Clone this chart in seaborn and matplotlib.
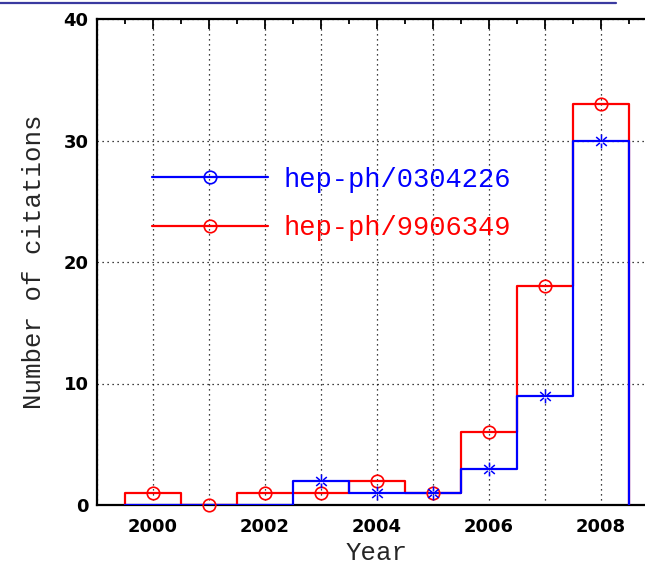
import numpy as np
import matplotlib
matplotlib.use("Agg")
import matplotlib.pyplot as plt
from matplotlib.lines import Line2D
from matplotlib.path import Path
from matplotlib.ticker import FixedLocator, FuncFormatter
import seaborn as sns

# Citations per year for the two papers
years = [2000, 2001, 2002, 2003, 2004, 2005, 2006, 2007, 2008]
cites_0304226 = [0, 0, 0, 2, 1, 1, 3, 9, 30]
cites_9906349 = [1, 0, 1, 1, 2, 1, 6, 18, 33]
labels = ["hep-ph/0304226", "hep-ph/9906349"]
colors = ["blue", "red"]

sns.set_style("white")
plt.rcParams["font.family"] = ["DejaVu Sans"]

fig = plt.figure(figsize=(6.45, 5.66), dpi=100)
ax = fig.add_axes([97 / 645, 61 / 566, 560 / 645, 486 / 566])


def stair_outline(yrs, vals):
    """Histogram outline: rise at the first bin edge, drop to zero at the last."""
    yrs = np.asarray(yrs, dtype=float)
    edges = np.concatenate([[yrs[0] - 0.5], yrs + 0.5])
    xs = np.concatenate([[edges[0]], edges])
    ys = np.concatenate([[0.0], vals, [0.0]])
    return xs, ys


# Six-armed asterisk with an open centre
arms = []
codes = []
for ang in [90, 270, 40, 140, 220, 320]:
    a = np.deg2rad(ang)
    arms += [(0.3 * np.cos(a), 0.3 * np.sin(a)), (np.cos(a), np.sin(a))]
    codes += [Path.MOVETO, Path.LINETO]
asterisk = Path(arms, codes)

# Red histogram first, blue drawn over it
for vals, col in [(cites_9906349, "red"), (cites_0304226, "blue")]:
    xs, ys = stair_outline(years, vals)
    sns.lineplot(x=xs, y=ys, ax=ax, color=col, lw=1.6, drawstyle="steps-post",
                 estimator=None, sort=False, zorder=3)

sns.lineplot(x=years, y=cites_9906349, ax=ax, estimator=None, sort=False,
             linestyle="", marker="o", ms=9, mfc="none", mec="red", mew=1.2,
             zorder=4, clip_on=False)

# Asterisks only for years with at least one citation
yrs_b = [y for y, v in zip(years, cites_0304226) if v > 0]
val_b = [v for v in cites_0304226 if v > 0]
sns.lineplot(x=yrs_b, y=val_b, ax=ax, estimator=None, sort=False,
             linestyle="", marker=asterisk, ms=10, mfc="none", mec="blue", mew=1.1,
             zorder=4, clip_on=False)

ax.set_xlim(1999, 2009)
ax.set_ylim(0, 40)

ax.xaxis.set_major_locator(FixedLocator(np.arange(1999, 2010)))
ax.xaxis.set_minor_locator(FixedLocator(np.arange(1999.5, 2009, 1.0)))
ax.xaxis.set_major_formatter(FuncFormatter(
    lambda v, p: f"{int(round(v))}" if int(round(v)) in years and int(round(v)) % 2 == 0 else ""))
ax.yaxis.set_major_locator(FixedLocator([0, 10, 20, 30, 40]))
ax.yaxis.set_minor_locator(FixedLocator(np.arange(0, 41, 2)))

ax.tick_params(which="both", direction="in", top=True, right=False, width=1.3, colors="black")
ax.tick_params(which="major", length=7.5)
ax.tick_params(which="minor", length=3.6)
ax.tick_params(axis="x", which="major", pad=9)
ax.tick_params(axis="y", which="major", pad=6)
for lab in ax.get_xticklabels() + ax.get_yticklabels():
    lab.set_fontsize(13)
    lab.set_fontweight("bold")

ax.grid(True, which="major", color="black", lw=0.9, linestyle=(0, (1, 3)))
ax.set_axisbelow(True)
for side in ["left", "bottom", "top"]:
    ax.spines[side].set_linewidth(1.6)
    ax.spines[side].set_color("black")
ax.spines["right"].set_visible(False)

label_font = dict(family="Liberation Mono", size=18.5)
ax.set_xlabel("Year", fontdict=label_font, labelpad=4)
ax.set_ylabel("Number of citations", fontdict=label_font, labelpad=13)

handles = [Line2D([], [], color=c, lw=1.6, marker="o", ms=9, mfc="none", mec=c, mew=1.2)
           for c in colors]
leg = ax.legend(handles, labels, loc="center left", bbox_to_anchor=(152 / 645, 1 - 204 / 566),
                bbox_transform=fig.transFigure, frameon=False, borderpad=0, borderaxespad=0,
                handlelength=4.3, handletextpad=0.55, labelspacing=0.84, numpoints=1,
                prop=dict(family="Liberation Mono", size=19.5))
for txt, c in zip(leg.get_texts(), colors):
    txt.set_color(c)

# Header rule across the top of the page
fig.add_artist(Line2D([0, 616 / 645], [1 - 3 / 566, 1 - 3 / 566], transform=fig.transFigure,
                      color="#3a3aa0", lw=1.6))

fig.savefig("out.png", dpi=100)
